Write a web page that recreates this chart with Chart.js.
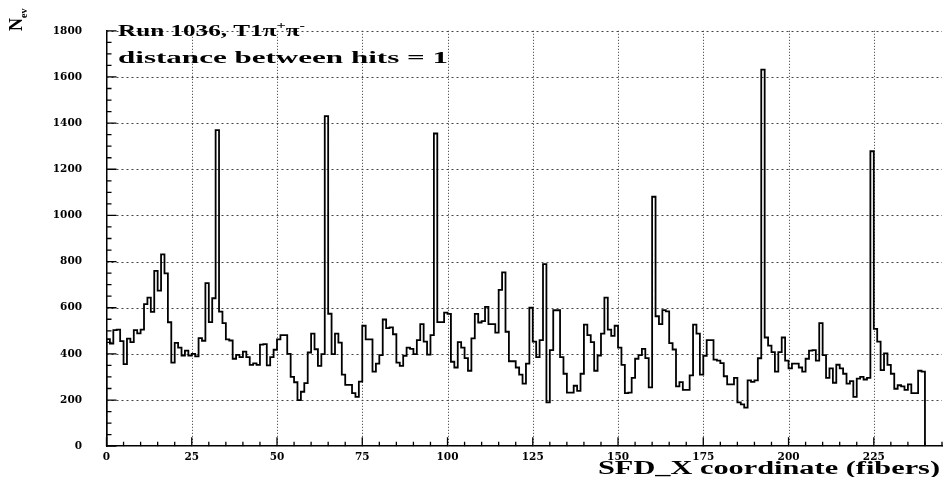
<!DOCTYPE html>
<html><head><meta charset="utf-8">
<script src="https://cdn.jsdelivr.net/npm/chart.js@4"></script>
<style>html,body{margin:0;padding:0;background:#fff;}canvas{display:block;}</style>
</head><body>
<canvas id="c" width="947" height="477"></canvas>
<script>
// Entries per fiber bin (bin i covers [i, i+1))
const counts = [
  464, 445, 503, 505, 455, 356, 466, 451, 503, 489,
  505, 616, 644, 582, 760, 674, 831, 749, 537, 362,
  448, 427, 393, 414, 393, 400, 389, 468, 457, 707,
  538, 641, 1370, 583, 533, 463, 458, 379, 396, 386,
  410, 386, 352, 359, 352, 440, 442, 350, 386, 418,
  463, 481, 481, 400, 300, 277, 200, 236, 273, 406,
  488, 420, 348, 399, 1430, 574, 399, 488, 449, 310,
  266, 266, 230, 214, 280, 522, 463, 463, 323, 358,
  395, 549, 512, 515, 485, 362, 348, 392, 427, 422,
  399, 460, 529, 453, 397, 481, 1355, 538, 538, 579,
  573, 366, 341, 451, 427, 382, 327, 467, 573, 536,
  542, 604, 529, 529, 492, 677, 753, 496, 368, 368,
  341, 310, 271, 358, 600, 453, 386, 460, 789, 190,
  416, 589, 589, 386, 314, 232, 232, 262, 240, 314,
  527, 481, 451, 327, 393, 488, 644, 505, 478, 522,
  427, 352, 230, 232, 296, 379, 395, 422, 382, 255,
  1081, 563, 529, 590, 584, 447, 419, 259, 278, 244,
  244, 307, 527, 488, 310, 392, 460, 460, 375, 371,
  360, 303, 268, 268, 296, 190, 181, 167, 285, 279,
  285, 381, 1632, 471, 436, 408, 323, 408, 471, 371,
  337, 358, 358, 341, 323, 379, 414, 416, 371, 533,
  395, 296, 337, 275, 353, 337, 314, 271, 282, 214,
  293, 300, 289, 296, 1278, 508, 453, 330, 402, 352,
  314, 249, 264, 259, 244, 268, 230, 230, 327, 323
];
const xTickLabels = ['0','25','50','75','100','125','150','175','200','225'];
const yTickLabels = ['0','200','400','600','800','1000','1200','1400','1600','1800'];
const runLabel = ['Run 1036, T1\u03c0', '+', '\u03c0', '-'];
const cutLabel = 'distance between hits = 1';
const xTitle = 'SFD_X coordinate (fibers)';
const yTitle = ['N', 'ev'];

// histogram outline: start at 0, one step per bin, drop back to 0 at the end
const histPoints = [{x: 0, y: 0}]
  .concat(counts.map((v, i) => ({x: i, y: v})))
  .concat([{x: counts.length, y: 0}]);

const SERIF = '"Liberation Serif", "Times New Roman", serif';
const TICKFONT = {family: '"DejaVu Serif", serif', size: 10.5, weight: 'bold'};

function drawStretched(ctx, parts, x, base, width) {
  ctx.save();
  let total = 0;
  for (const p of parts) { ctx.font = 'bold ' + p.size + 'px ' + SERIF; total += ctx.measureText(p.t).width; }
  const k = width / total;
  ctx.translate(x, base);
  ctx.scale(k, 1);
  let cx = 0;
  ctx.fillStyle = '#000';
  ctx.textBaseline = 'alphabetic';
  ctx.textAlign = 'left';
  for (const p of parts) {
    ctx.font = 'bold ' + p.size + 'px ' + SERIF;
    ctx.fillText(p.t, cx, p.dy || 0);
    cx += ctx.measureText(p.t).width;
  }
  ctx.restore();
}

const decor = {
  id: 'decor',
  beforeDatasetsDraw(chart) {
    const {ctx, chartArea: a, scales: {x, y}} = chart;
    ctx.save();
    ctx.lineWidth = 1;
    // vertical grid at labelled x ticks
    ctx.strokeStyle = '#333';
    ctx.setLineDash([1, 2]);
    ctx.beginPath();
    for (const lab of xTickLabels) {
      const v = Number(lab);
      if (v <= 0) continue;
      const px = Math.round(x.getPixelForValue(v)) + 0.5;
      ctx.moveTo(px, a.top); ctx.lineTo(px, a.bottom);
    }
    ctx.stroke();
    // horizontal grid at labelled y ticks
    ctx.strokeStyle = '#444';
    ctx.setLineDash([2, 3]);
    ctx.beginPath();
    for (const lab of yTickLabels) {
      const v = Number(lab);
      if (v <= 0) continue;
      const py = Math.round(y.getPixelForValue(v)) + 0.5;
      ctx.moveTo(a.left, py); ctx.lineTo(a.right, py);
    }
    ctx.stroke();
    ctx.restore();
  },
  afterDatasetsDraw(chart) {
    const {ctx, chartArea: a, scales: {x, y}} = chart;
    ctx.save();
    ctx.strokeStyle = '#000';
    ctx.lineWidth = 1.3;
    ctx.beginPath();
    for (let v = 0; v <= x.max; v += 5) {
      const px = x.getPixelForValue(v);
      const len = v % 25 === 0 ? 9 : 4.5;
      ctx.moveTo(px, a.bottom); ctx.lineTo(px, a.bottom - len);
    }
    for (let v = 0; v <= y.max; v += 50) {
      const py = y.getPixelForValue(v);
      const len = v % 200 === 0 ? 10 : 5;
      ctx.moveTo(a.left, py); ctx.lineTo(a.left + len, py);
    }
    ctx.stroke();
    ctx.restore();

    drawStretched(ctx, [
      {t: runLabel[0], size: 17},
      {t: runLabel[1], size: 11, dy: -7},
      {t: runLabel[2], size: 17},
      {t: runLabel[3], size: 11, dy: -7}
    ], 118, 36, 187);
    drawStretched(ctx, [{t: cutLabel, size: 17}], 118, 63, 330);
    drawStretched(ctx, [{t: xTitle, size: 18}], 598, 474, 342);

    ctx.save();
    ctx.fillStyle = '#000';
    ctx.translate(22, 31);
    ctx.rotate(-Math.PI / 2);
    ctx.font = 'bold 18px ' + SERIF;
    ctx.fillText(yTitle[0], 0, 0);
    const w = ctx.measureText(yTitle[0]).width;
    ctx.font = 'bold 10px ' + SERIF;
    ctx.fillText(yTitle[1], w, 5);
    ctx.restore();
  }
};

new Chart(document.getElementById('c'), {
  type: 'line',
  data: {
    datasets: [{
      data: histPoints,
      stepped: true,
      borderColor: '#000',
      borderWidth: 1.8,
      pointRadius: 0,
      fill: false,
      tension: 0
    }]
  },
  options: {
    responsive: false,
    animation: false,
    devicePixelRatio: 1,
    layout: {padding: {top: 11, right: 0, left: 0, bottom: 0}},
    plugins: {legend: {display: false}, tooltip: {enabled: false}},
    scales: {
      x: {
        type: 'linear', min: 0, max: 245,
        afterFit: (s) => { s.height = 28; },
        ticks: {
          stepSize: 25, autoSkip: false, maxRotation: 0, padding: 5,
          color: '#000', font: TICKFONT,
          callback: (v) => xTickLabels.includes(String(v)) ? String(v) : ''
        },
        grid: {display: false, drawTicks: false},
        border: {display: true, color: '#000', width: 1.5}
      },
      y: {
        type: 'linear', min: 0, max: 1800,
        afterFit: (s) => { s.width = 106.5; },
        ticks: {
          stepSize: 200, padding: 24.5, color: '#000', font: TICKFONT,
          callback: (v) => yTickLabels.includes(String(v)) ? String(v) : ''
        },
        grid: {display: false, drawTicks: false},
        border: {display: true, color: '#000', width: 1.5}
      }
    }
  },
  plugins: [decor]
});
</script>
</body></html>
